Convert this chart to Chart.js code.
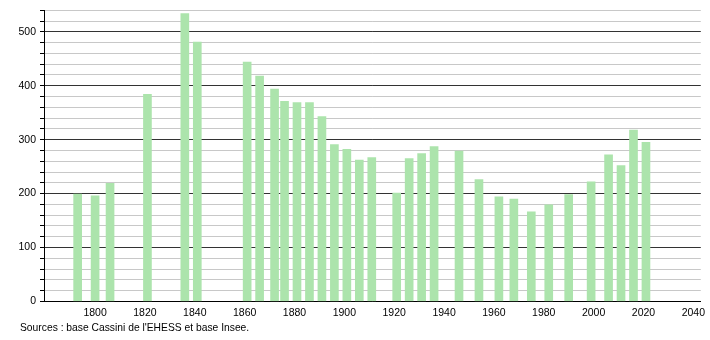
<!DOCTYPE html>
<html>
<head>
<meta charset="utf-8">
<script src="https://cdn.jsdelivr.net/npm/chart.js@4.4.1/dist/chart.umd.min.js"></script>
<style>
  html,body{margin:0;padding:0;background:#fff;}
  #wrap{width:710px;height:340px;position:relative;}
</style>
</head>
<body>
<div id="wrap"><canvas id="pop" width="710" height="340"></canvas></div>
<script>
const years = [1793,1800,1806,1821,1836,1841,1861,1866,1872,1876,1881,1886,1891,1896,1901,1906,1911,1921,1926,1931,1936,1946,1954,1962,1968,1975,1982,1990,1999,2006,2011,2016,2021];
const population = [199,196,219,384,534,481,444,418,394,371,369,369,343,291,282,262,267,201,265,274,287,279,226,194,190,166,179,198,222,272,252,318,295];
const xTicks = [1800,1820,1840,1860,1880,1900,1920,1940,1960,1980,2000,2020,2040];
const sourceText = "Sources : base Cassini de l'EHESS et base Insee.";

const sourcePlugin = {
  id:'source',
  afterDraw(chart){
    const c = chart.ctx;
    c.save();
    c.font = '10.3px "Liberation Sans", Arial, sans-serif';
    c.fillStyle = '#000';
    c.textBaseline = 'middle';
    c.fillText(sourceText, 20, 328);
    c.restore();
  }
};

const font = {family:'"Liberation Sans", Arial, sans-serif', size:10.5};

new Chart(document.getElementById('pop'), {
  type:'bar',
  data:{datasets:[{
    data: years.map((y,i)=>({x:y, y:population[i]})),
    backgroundColor:'#ace4ac',
    barThickness:8,
    borderWidth:0
  }]},
  options:{
    responsive:false,
    animation:false,
    plugins:{legend:{display:false}, tooltip:{enabled:false}},
    layout:{padding:{left:0,right:0,top:10,bottom:16}},
    scales:{
      x:{
        type:'linear', min:1779.5, max:2043, offset:false,
        afterBuildTicks(ax){ ax.ticks = xTicks.map(v=>({value:v})); },
        grid:{display:false, drawTicks:false},
        border:{display:true, color:'#000', width:1},
        ticks:{font, color:'#000', padding:5, maxRotation:0, autoSkip:false,
          callback:v=>String(v)}
      },
      y:{
        min:0, max:540,
        afterFit(ax){ ax.width = 44; },
        ticks:{stepSize:20, font, color:'#000', padding:4, autoSkip:false,
          callback:v=> v%100===0 ? String(v) : ''},
        grid:{
          color:ctx=> ctx.tick && ctx.tick.value%100===0 ? '#333' : '#c8c8c8',
          tickColor:'#000', tickLength:4, lineWidth:1
        },
        border:{display:true, color:'#000', width:1}
      }
    }
  },
  plugins:[sourcePlugin]
});
</script>
</body>
</html>
